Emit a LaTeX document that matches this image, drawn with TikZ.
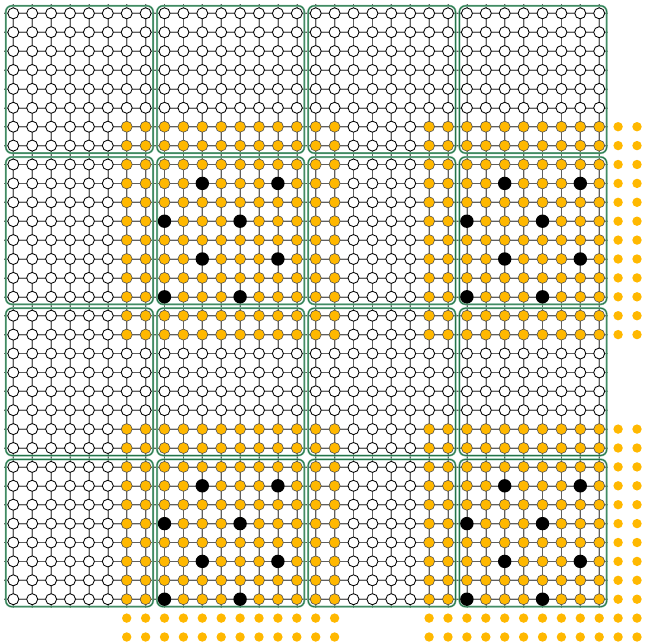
\documentclass[tikz,border=0pt]{standalone}
\definecolor{orng}{RGB}{255,184,0}
\definecolor{grnD}{RGB}{35,115,72}
\definecolor{grnL}{RGB}{125,182,152}
\definecolor{lgry}{RGB}{200,200,200}
\definecolor{dgry}{RGB}{95,95,95}
\definecolor{ogry}{RGB}{80,80,80}
\tikzset{
  wht/.style={circle,inner sep=0pt,minimum size=11pt,draw=black,line width=0.85pt,fill=white},
  orn/.style={circle,inner sep=0pt,minimum size=11pt,draw=ogry,line width=0.6pt,fill=orng},
  blk/.style={circle,inner sep=0pt,minimum size=13.4pt,fill=black},
  odot/.style={circle,inner sep=0pt,minimum size=9.4pt,fill=orng},
  lgline/.style={lgry,line width=1.8pt},
  dgline/.style={dgry,line width=0.55pt},
  boxL/.style={grnL,line width=2pt,rounded corners=6pt},
  boxD/.style={grnD,line width=0.8pt,rounded corners=6pt}
}
\begin{document}
\begin{tikzpicture}[x=1pt,y=-1pt]
\useasboundingbox (0,0) rectangle (646,643);
% lattice coordinates
\foreach \r in {0,...,31}{
  \coordinate (sl-\r) at (4.3,{13.3+18.9*\r});
  \coordinate (sr-\r) at ({13.3+18.9*31+9},{13.3+18.9*\r});
  \coordinate (st-\r) at ({13.3+18.9*\r},4.3);
  \coordinate (sb-\r) at ({13.3+18.9*\r},{13.3+18.9*31+9});
}
% lattice lines
\foreach \r in {0,...,31}{
  \draw[lgline] (sl-\r) -- (sr-\r);
  \draw[lgline] (st-\r) -- (sb-\r);
}
\foreach \r in {0,...,31}{
  \draw[dgline] (sl-\r) -- (sr-\r);
  \draw[dgline] (st-\r) -- (sb-\r);
}
% block frames
\foreach \i in {0,...,3}{
  \foreach \j in {0,...,3}{
    \draw[boxL] ({13.3+151.2*\j-7.5},{13.3+151.2*\i-7.5}) rectangle ++(147.3,147.3);
    \draw[boxD] ({13.3+151.2*\j-7.5},{13.3+151.2*\i-7.5}) rectangle ++(147.3,147.3);
  }
}
% nodes
\foreach \r in {0,...,33}{
  \foreach \c in {0,...,33}{
    \pgfmathtruncatemacro{\inR}{((\r>=6)&&(\r<=17))||((\r>=22)&&(\r<=33))}
    \pgfmathtruncatemacro{\inC}{((\c>=6)&&(\c<=17))||((\c>=22)&&(\c<=33))}
    \pgfmathtruncatemacro{\org}{(\inR==1)&&(\inC==1)}
    \pgfmathtruncatemacro{\inG}{(\r<=31)&&(\c<=31)}
    \pgfmathtruncatemacro{\lr}{mod(\r,8)}
    \pgfmathtruncatemacro{\lc}{mod(\c,8)}
    \pgfmathtruncatemacro{\bb}{(mod(floor(\r/8),2)==1)&&(mod(floor(\c/8),2)==1)&&(\inG==1)}
    \pgfmathtruncatemacro{\pat}{((mod(\lr,4)==1)&&(mod(\lc,4)==2))||((mod(\lr,4)==3)&&(mod(\lc,4)==0))}
    \ifnum\inG=1
      \ifnum\bb\pat=11
        \node[blk] (n-\r-\c) at ({13.3+18.9*\c},{13.3+18.9*\r}) {};
      \else
        \ifnum\org=1
          \node[orn] (n-\r-\c) at ({13.3+18.9*\c},{13.3+18.9*\r}) {};
        \else
          \node[wht] (n-\r-\c) at ({13.3+18.9*\c},{13.3+18.9*\r}) {};
        \fi
      \fi
    \else
      \ifnum\org=1
        \node[odot] (n-\r-\c) at ({13.3+18.9*\c},{13.3+18.9*\r}) {};
      \fi
    \fi
  }
}
\end{tikzpicture}
\end{document}
